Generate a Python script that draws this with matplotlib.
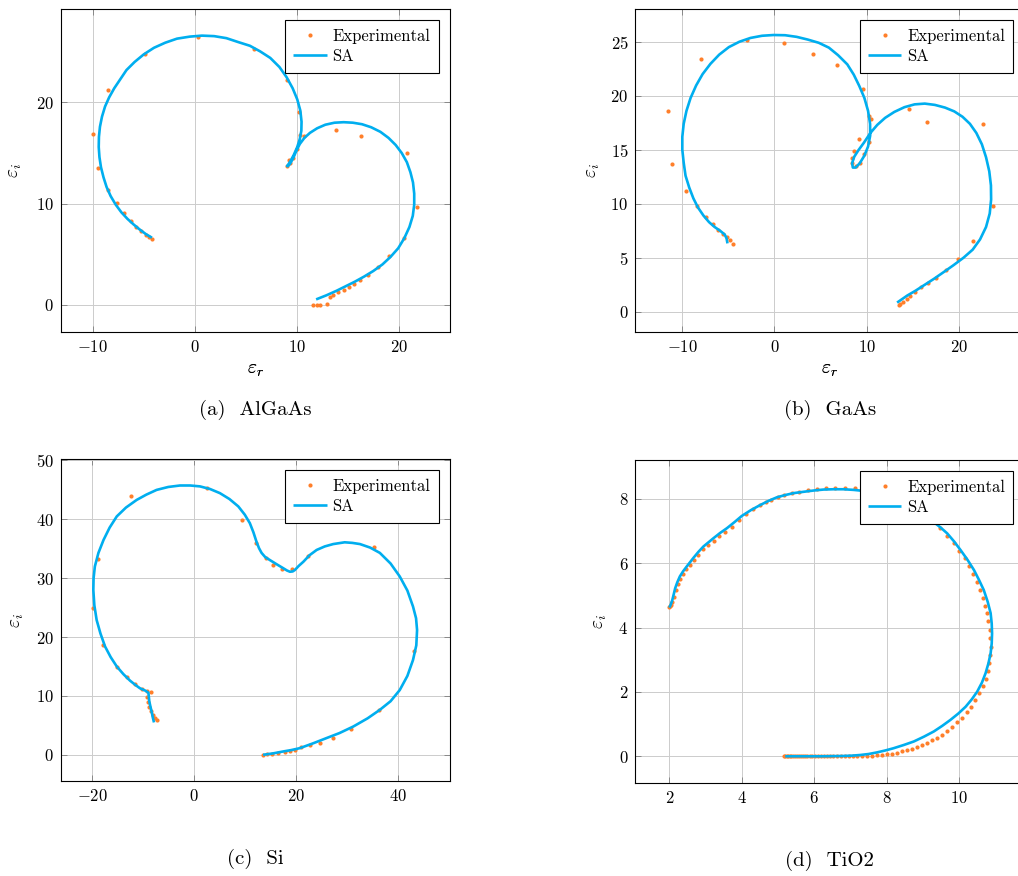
import matplotlib
matplotlib.use("Agg")
import matplotlib.pyplot as plt

plt.rcParams.update({
    "font.family": "serif",
    "font.serif": ["cmr10"],
    "mathtext.fontset": "cm",
    "axes.formatter.use_mathtext": True,
    "font.size": 12,
    "axes.unicode_minus": True,
})

ORANGE = "#FF7F2A"
BLUE = "#00AEEF"

# ---------------- (a) AlGaAs ----------------
a_exp_r = [0.36, 5.76, -4.87, 9.0, -8.47, 10.24, -9.94, 13.84, 16.29, 10.34, 10.73, 20.84,
           -9.52, 10.07, 9.68, 9.36, 9.09, 9.25, -8.54, -7.65, -6.93, -6.28, -5.76, -5.23,
           -4.81, -4.48, -4.15, 21.82, 20.48, 19.04, 17.96, 16.98, 16.16, 15.57, 15.08,
           14.59, 14.03, 13.54, 13.28, 12.92, 12.3, 11.94, 11.58]
a_exp_i = [26.5, 25.3, 24.8, 22.2, 21.2, 19.1, 16.9, 17.3, 16.7, 16.8, 16.7, 15.0,
           13.5, 15.4, 14.5, 14.0, 13.75, 14.3, 11.4, 10.07, 9.1, 8.3, 7.7, 7.27,
           6.94, 6.7, 6.55, 9.64, 6.58, 4.87, 3.78, 2.99, 2.47, 2.04, 1.74,
           1.51, 1.25, 0.99, 0.82, 0.07, 0.0, 0.0, 0.0]
a_sa_r = [-4.2, -4.8, -5.4, -6.0, -6.6, -7.2, -7.75, -8.25, -8.65, -8.95, -9.2, -9.35,
          -9.42, -9.4, -9.3, -9.1, -8.8, -8.4, -7.9, -7.3, -6.7, -5.9, -5.0, -4.0, -2.9,
          -1.75, -0.5, 0.7, 1.9, 3.1, 4.3, 5.4, 6.4, 7.4, 8.3, 9.0, 9.6, 10.05, 10.35,
          10.47, 10.45, 10.3, 10.05, 9.7, 9.38, 9.15, 9.05, 9.12, 9.35, 9.65, 9.95, 10.3,
          10.75, 11.3, 12.0, 12.8, 13.7, 14.6, 15.5, 16.4, 17.3, 18.2, 19.0, 19.7, 20.3,
          20.8, 21.15, 21.4, 21.52, 21.52, 21.38, 21.05, 20.55, 19.95, 19.2, 18.4, 17.5,
          16.6, 15.7, 14.8, 13.9, 12.9, 11.9]
a_sa_i = [6.64, 7.0, 7.45, 7.95, 8.5, 9.15, 9.9, 10.75, 11.65, 12.6, 13.6, 14.6,
          15.6, 16.6, 17.6, 18.6, 19.6, 20.5, 21.4, 22.3, 23.2, 24.0, 24.75, 25.4, 25.9,
          26.3, 26.5, 26.6, 26.55, 26.35, 25.95, 25.6, 25.05, 24.4, 23.5, 22.5, 21.4, 20.3,
          19.2, 18.1, 17.2, 16.4, 15.6, 14.8, 14.2, 13.85, 13.72, 13.7, 13.95, 14.5, 15.2,
          15.9, 16.5, 17.0, 17.45, 17.8, 18.0, 18.05, 18.0, 17.85, 17.55, 17.1, 16.5, 15.8,
          15.0, 14.1, 13.1, 12.1, 11.0, 9.9, 8.8, 7.7, 6.6, 5.6, 4.75, 4.0, 3.35,
          2.8, 2.3, 1.85, 1.4, 0.95, 0.55]

# ---------------- (b) GaAs ----------------
b_exp_r = [-3.0, 1.05, 4.2, 6.8, -8.0, 9.59, -11.5, 10.28, 10.46, 14.55, 16.58, 22.62,
           9.12, 10.2, 8.65, 9.74, 8.4, 8.36, 9.27, 8.83, -11.15, -9.63, -8.36, -7.42,
           -6.66, -6.08, -5.57, -5.18, -4.85, -4.49, 23.67, 21.57, 19.87, 18.6, 17.5,
           16.6, 15.9, 15.24, 14.73, 14.33, 13.9, 13.64, 13.46]
b_exp_i = [25.2, 24.85, 23.9, 22.8, 23.4, 20.6, 18.6, 18.1, 17.8, 18.76, 17.6, 17.4,
           16.0, 15.76, 14.9, 14.6, 14.2, 13.75, 13.8, 13.5, 13.7, 11.16, 9.8, 8.8,
           8.13, 7.57, 7.17, 6.9, 6.6, 6.24, 9.83, 6.58, 4.88, 3.86, 3.15,
           2.69, 2.26, 1.85, 1.45, 1.14, 0.87, 0.68, 0.59]
b_sa_r = [-5.1, -5.2, -5.4, -5.9, -6.5, -7.1, -7.7, -8.3, -8.8, -9.25, -9.65, -9.85,
          -10.0, -10.0, -9.85, -9.55, -9.1, -8.5, -7.8, -6.95, -6.0, -4.95, -3.8, -2.6,
          -1.35, -0.1, 1.15, 2.4, 3.6, 4.8, 5.9, 6.9, 7.9, 8.6, 9.2, 9.75, 10.15, 10.37,
          10.38, 10.15, 9.75, 9.25, 8.8, 8.5, 8.42, 8.65, 9.1, 9.7, 10.4, 11.15, 12.0,
          13.0, 14.1, 15.2, 16.3, 17.4, 18.5, 19.5, 20.4, 21.2, 21.9, 22.5, 22.95, 23.3,
          23.48, 23.5, 23.35, 22.95, 22.3, 21.5, 20.5, 19.4, 18.4, 17.3, 16.3, 15.3, 14.4,
          13.3]
b_sa_i = [6.33, 6.8, 7.15, 7.5, 7.85, 8.3, 8.9, 9.65, 10.5, 11.5, 12.6, 13.8,
          15.0, 16.2, 17.4, 18.6, 19.8, 20.95, 22.0, 22.95, 23.8, 24.5, 25.0, 25.35,
          25.55, 25.62, 25.6, 25.45, 25.2, 24.9, 24.45, 23.75, 22.9, 21.95, 20.9, 19.8,
          18.6, 17.4, 16.3, 15.3, 14.45, 13.75, 13.35, 13.35, 13.75, 14.35, 14.95, 15.65,
          16.55, 17.3, 17.95, 18.5, 18.94, 19.2, 19.27, 19.15, 18.9, 18.55, 18.05, 17.4,
          16.55, 15.5, 14.3, 13.0, 11.7, 10.4, 9.1, 7.85, 6.7, 5.75, 5.0, 4.3, 3.7, 3.05,
          2.5, 1.95, 1.5, 0.85]

# ---------------- (c) Si ----------------
c_exp_r = [-12.4, 2.42, 9.35, 12.2, 14.0, 15.5, 17.25, 19.15, 22.35, 35.2, -18.9, -19.9,
           -18.0, -15.2, -13.1, -11.6, -10.3, -9.35, -8.56, -9.35, -9.15, -8.8, -8.43,
           -8.04, -7.7, -7.39, 43.1, 36.3, 30.65, 27.25, 24.6, 22.7, 21.0, 19.7, 18.76,
           17.8, 16.5, 15.2, 14.2, 13.5]
c_exp_i = [44.0, 45.3, 39.9, 35.9, 33.5, 32.2, 31.5, 31.6, 33.8, 35.3, 33.3, 24.9,
           18.6, 15.0, 13.2, 12.0, 11.15, 10.76, 10.65, 9.9, 8.95, 8.04, 7.36,
           6.8, 6.23, 5.83, 17.67, 7.64, 4.36, 2.83, 1.98, 1.59, 1.25, 0.74, 0.57,
           0.45, 0.28, 0.17, 0.11, 0.0]
c_sa_r = [-7.9, -8.15, -8.37, -8.6, -8.82, -8.95, -9.0, -9.6, -10.65, -11.6, -12.6, -13.9,
          -15.2, -16.4, -17.5, -18.4, -19.15, -19.6, -19.8, -19.75, -19.5, -18.8, -17.8,
          -16.6, -15.2, -13.4, -11.3, -9.4, -7.39, -5.1, -2.81, -0.8, 1.11, 3.1, 5.03,
          6.9, 8.63, 9.9, 10.9, 11.6, 12.2, 12.7, 13.2, 13.9, 14.8, 16.1, 17.45, 18.2,
          18.76, 19.3, 19.74, 20.5, 21.4, 22.6, 24.0, 25.6, 27.25, 29.5, 31.0, 32.5, 34.5,
          36.4, 38.5, 40.3, 41.8, 42.9, 43.5, 43.7, 43.55, 42.9, 41.8, 40.3, 38.5, 36.4,
          34.0, 31.2, 28.5, 25.9, 23.3, 20.7, 19.0, 17.45, 15.5, 13.5]
c_sa_i = [5.5, 6.4, 7.36, 8.2, 9.06, 10.2, 10.55, 10.9, 11.3, 11.9, 12.6, 13.7,
          15.0, 16.6, 18.4, 20.6, 22.9, 25.4, 28.0, 30.0, 32.0, 34.3, 36.5,
          38.6, 40.5, 42.0, 43.3, 44.2, 45.0, 45.5, 45.75, 45.75, 45.6, 45.15, 44.45,
          43.45, 42.2, 40.8, 39.35, 37.8, 36.2, 35.1, 34.3, 33.6, 33.1, 32.4, 31.7, 31.3,
          31.1, 31.15, 31.4, 32.1, 32.8, 33.9, 34.8, 35.4, 35.8, 36.1, 36.0, 35.8, 35.2,
          34.3, 32.5, 30.3, 27.9, 25.2, 23.2, 21.2, 18.6, 16.1, 13.4, 11.0, 9.1, 7.64,
          6.2, 4.81, 3.7, 2.83, 1.95, 1.13, 0.8, 0.57, 0.25, 0.0]

# ---------------- (d) TiO2 ----------------
d_exp_r = [2.00, 2.02, 2.05, 2.08, 2.12, 2.17, 2.23, 2.30, 2.38, 2.47, 2.57, 2.68, 2.80,
           2.93, 3.07, 3.22, 3.38, 3.55, 3.73, 3.92, 4.12, 4.32, 4.51, 4.66, 4.81, 4.99,
           5.17, 5.38, 5.59, 5.84, 6.07, 6.32, 6.58, 6.86, 7.12, 7.38, 7.64, 7.89, 8.13,
           8.36, 8.58, 8.79, 8.98, 9.16, 9.30, 9.47, 9.67, 9.85, 10.01, 10.15, 10.28,
           10.39, 10.49, 10.57, 10.65, 10.71, 10.76, 10.81, 10.84, 10.86, 10.87, 10.86,
           10.83, 10.79, 10.73, 10.65, 10.55, 10.45, 10.34, 10.22, 10.08, 9.94, 9.81,
           9.67, 9.53, 9.39, 9.25, 9.12, 8.98, 8.84, 8.70, 8.56, 8.42, 8.29, 8.15, 8.01,
           7.87, 7.73, 7.59, 7.45, 7.32, 7.19, 7.07, 6.95, 6.84, 6.73, 6.63, 6.53, 6.44,
           6.35, 6.26, 6.18, 6.10, 6.02, 5.95, 5.88, 5.81, 5.75, 5.69, 5.63, 5.57, 5.52,
           5.47, 5.42, 5.37, 5.32, 5.28, 5.24, 5.20, 5.16]
d_exp_i = [4.64, 4.66, 4.70, 4.79, 4.95, 5.16, 5.34, 5.52, 5.67, 5.81, 5.95, 6.11, 6.27,
           6.43, 6.56, 6.70, 6.84, 6.98, 7.14, 7.33, 7.52, 7.68, 7.81, 7.90, 7.98, 8.05,
           8.11, 8.17, 8.22, 8.27, 8.31, 8.34, 8.35, 8.35, 8.34, 8.32, 8.28, 8.22, 8.14,
           8.04, 7.92, 7.78, 7.62, 7.46, 7.30, 7.09, 6.86, 6.64, 6.39, 6.16, 5.92,
           5.67, 5.42, 5.17, 4.93, 4.68, 4.44, 4.19, 3.93, 3.67, 3.41, 3.15,
           2.91, 2.66, 2.41, 2.19, 1.96, 1.75, 1.54, 1.37, 1.20, 1.05, 0.90,
           0.78, 0.67, 0.58, 0.50, 0.41, 0.35, 0.29, 0.24, 0.19, 0.15, 0.11, 0.08, 0.06,
           0.04, 0.03, 0.02, 0.015, 0.01, 0.01, 0.008, 0.006, 0.005, 0.004, 0.003, 0.002,
           0.002, 0.001, 0.001, 0.001, 0.0, 0.0, 0.0, 0.0, 0.0, 0.0, 0.0, 0.0, 0.0, 0.0,
           0.0, 0.0, 0.0, 0.0, 0.0, 0.0, 0.0, 0.0]
d_sa_r = [2.0, 2.04, 2.08, 2.12, 2.16, 2.22, 2.29, 2.38, 2.48, 2.57, 2.66, 2.8, 2.94,
          3.08, 3.22, 3.4, 3.59, 3.8, 4.0, 4.25, 4.51, 4.74, 4.97, 5.2, 5.43, 5.7, 5.98,
          6.25, 6.53, 6.8, 7.09, 7.6, 8.1, 8.5, 8.9, 9.3, 9.49, 9.67, 9.86, 10.04, 10.23,
          10.41, 10.55, 10.68, 10.79, 10.87, 10.9, 10.91, 10.9, 10.87, 10.81, 10.73, 10.63,
          10.5, 10.35, 10.18, 9.98, 9.76, 9.54, 9.3, 9.03, 8.75, 8.47, 8.19, 7.96, 7.73,
          7.5, 7.27, 7.04, 6.81, 6.2, 5.43, 5.2]
d_sa_i = [4.62, 4.72, 4.85, 5.03, 5.22, 5.41, 5.59, 5.75, 5.9, 6.03, 6.16, 6.35, 6.52,
          6.65, 6.78, 6.94, 7.09, 7.28, 7.47, 7.65, 7.81, 7.94, 8.05, 8.12, 8.18, 8.22,
          8.26, 8.29, 8.3, 8.3, 8.28, 8.22, 8.1, 7.9, 7.62, 7.28, 7.11, 6.93, 6.68, 6.41,
          6.11, 5.79, 5.48, 5.17, 4.8, 4.45, 4.13, 3.82, 3.5, 3.2, 2.89, 2.58, 2.29,
          2.01, 1.77, 1.54, 1.33, 1.13, 0.95, 0.77, 0.61, 0.46, 0.35, 0.25, 0.18, 0.12,
          0.07, 0.04, 0.02, 0.01, 0.0, 0.0, 0.0]

panels = [
    dict(exp=(a_exp_r, a_exp_i), sa=(a_sa_r, a_sa_i), xlim=(-13.15, 25.0), ylim=(-2.7, 29.2),
         xticks=[-10, 0, 10, 20], yticks=[0, 10, 20], caption="(a)  AlGaAs",
         box=(60.7, 9.3, 389, 323), ylx=-0.1175),
    dict(exp=(b_exp_r, b_exp_i), sa=(b_sa_r, b_sa_i), xlim=(-15.1, 27.1), ylim=(-1.9, 28.0),
         xticks=[-10, 0, 10, 20], yticks=[0, 5, 10, 15, 20, 25], caption="(b)  GaAs",
         box=(635.3, 9.3, 389, 323), ylx=-0.109),
    dict(exp=(c_exp_r, c_exp_i), sa=(c_sa_r, c_sa_i), xlim=(-26.2, 50.1), ylim=(-4.5, 50.2),
         xticks=[-20, 0, 20, 40], yticks=[0, 10, 20, 30, 40, 50], caption="(c)  Si",
         box=(60.7, 459.3, 389, 322), ylx=-0.113),
    dict(exp=(d_exp_r, d_exp_i), sa=(d_sa_r, d_sa_i), xlim=(1.06, 11.8), ylim=(-0.84, 9.2),
         xticks=[2, 4, 6, 8, 10], yticks=[0, 2, 4, 6, 8], caption="(d)  TiO2",
         box=(635.3, 460.3, 389, 323), ylx=-0.091),
]

W, H = 1018, 876
fig = plt.figure(figsize=(W / 100, H / 100), dpi=100)

for p in panels:
    l, t, w, h = p["box"]
    ax = fig.add_axes([l / W, 1 - (t + h) / H, w / W, h / H])
    ax.plot(p["exp"][0], p["exp"][1], linestyle="none", marker="o", markersize=3.0,
            markeredgewidth=0, color=ORANGE, label="Experimental", zorder=3)
    ax.plot(p["sa"][0], p["sa"][1], color=BLUE, lw=1.9, label="SA", zorder=4,
            solid_capstyle="butt", solid_joinstyle="round")
    ax.set_xlim(*p["xlim"])
    ax.set_ylim(*p["ylim"])
    ax.set_xticks(p["xticks"])
    ax.set_yticks(p["yticks"])
    ax.grid(True, color="#cccccc", lw=0.7, zorder=0)
    ax.set_axisbelow(True)
    ax.tick_params(direction="in", top=True, right=True, length=4, width=0.7,
                   color="#888888", labelsize=12, pad=5)
    for s in ax.spines.values():
        s.set_linewidth(0.8)
        s.set_color("black")
    ax.set_xlabel(r"$\varepsilon_r$", fontsize=14)
    ax.xaxis.set_label_coords(0.5, -(370 - (t + h)) / h)
    ax.xaxis.label.set_verticalalignment("center")
    ax.set_ylabel(r"$\varepsilon_i$", fontsize=14)
    ax.yaxis.set_label_coords(p["ylx"], 0.5)
    ax.yaxis.label.set_verticalalignment("center")
    leg = ax.legend(loc="upper right", borderaxespad=0.66, fancybox=False, framealpha=1,
                    edgecolor="black", fontsize=12, handlelength=2.0, handletextpad=0.35,
                    borderpad=0.5, labelspacing=0.3, numpoints=1)
    leg.get_frame().set_linewidth(0.8)
    leg.set_zorder(10)
    fig.text((l + w / 2) / W, 1 - (t + h + 78) / H, p["caption"], ha="center",
             va="center", fontsize=15)

fig.savefig("out.png", dpi=100)
